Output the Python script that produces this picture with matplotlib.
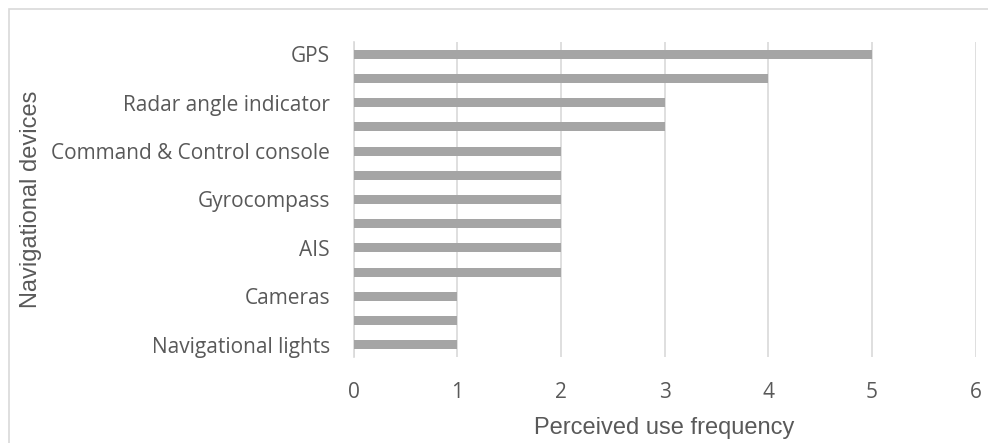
import matplotlib.pyplot as plt
from matplotlib.patches import Rectangle

DEVICES = [
    "GPS", "", "Radar angle indicator", "", "Command & Control console", "",
    "Gyrocompass", "", "AIS", "", "Cameras", "", "Navigational lights",
]
FREQUENCY = [5, 4, 3, 3, 2, 2, 2, 2, 2, 2, 1, 1, 1]
X_TICKS = [0, 1, 2, 3, 4, 5, 6]

BAR_COLOR = "#A5A5A5"
GRID_COLOR = "#D9D9D9"
TEXT_COLOR = "#595959"

fig = plt.figure(figsize=(9.88, 4.43), dpi=100)
# chart-area border (runs off the right and bottom of the image)
fig.patches.append(Rectangle((9 / 988, -0.2), 1.2, 1.2 - 9 / 443,
                             transform=fig.transFigure, fill=False,
                             edgecolor=GRID_COLOR, linewidth=1.2))

ax = fig.add_axes([353.5 / 988, 86 / 443, 622 / 988, 315 / 443])
pos = list(range(len(DEVICES)))
ax.barh(pos, FREQUENCY, height=0.37, color=BAR_COLOR, zorder=3)
ax.set_ylim(len(DEVICES) - 0.5, -0.5)
ax.set_xlim(0, 6)
ax.set_xticks(X_TICKS)
ax.set_yticks(pos)
ax.set_yticklabels(DEVICES)

ax.grid(axis="x", color=GRID_COLOR, linewidth=1.2, zorder=0)
for side in ["top", "right", "bottom"]:
    ax.spines[side].set_visible(False)
ax.spines["left"].set_color(GRID_COLOR)
ax.spines["left"].set_linewidth(1.2)
ax.tick_params(length=0, colors=TEXT_COLOR, labelsize=15)
ax.tick_params(axis="y", pad=17)
ax.tick_params(axis="x", pad=18)
for lbl in ax.get_xticklabels() + ax.get_yticklabels():
    lbl.set_fontfamily("Open Sans")

ax.set_xlabel("Perceived use frequency", fontsize=17, color=TEXT_COLOR,
              family="Liberation Sans")
ax.set_ylabel("Navigational devices", fontsize=17, color=TEXT_COLOR,
              family="Liberation Sans")
ax.xaxis.set_label_coords(0.5, -(428 - 357) / 315)
ax.xaxis.label.set_va("center")
ax.yaxis.set_label_coords((31 - 353.5) / 622, 0.5)
ax.yaxis.label.set_va("center")

fig.savefig("out.png", dpi=100)
